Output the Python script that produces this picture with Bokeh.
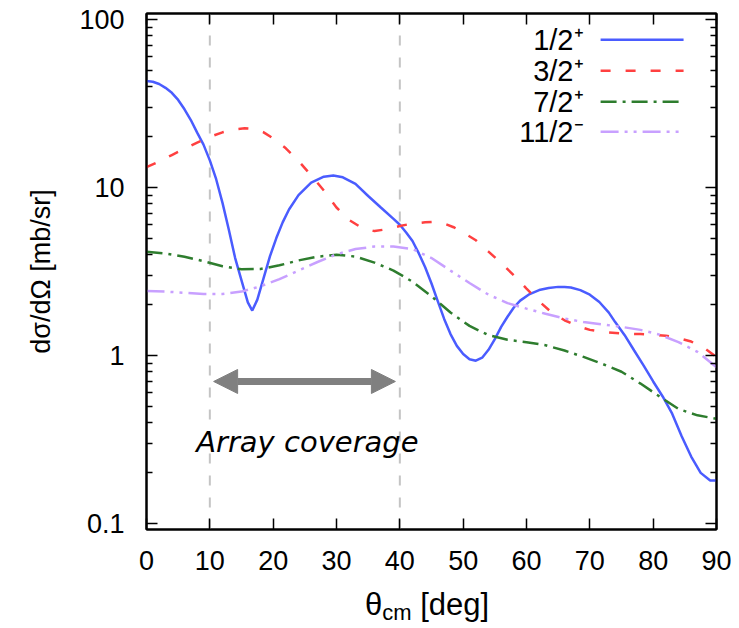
from bokeh.plotting import figure
from bokeh.models import (Range1d, FixedTicker, LogAxis, LinearAxis, Span, Label,
                          Arrow, NormalHead, Title, Div)
from bokeh.layouts import column
from bokeh.embed import file_html
from bokeh.resources import INLINE

# ---------------- data ----------------
x_half = [0, 1, 2, 3, 4, 5, 6, 7, 8, 9, 10, 11, 12, 13, 14, 15, 16, 16.7, 17.5, 18.5,
          19.5, 20.5, 21.5, 22.5, 24, 26, 28, 29.5, 31, 33, 35, 37, 39, 40, 41, 42, 43,
          44, 45, 46, 47, 48, 49, 50, 51, 52, 53, 54, 55, 56, 57, 58, 59, 60.5, 62, 63.5,
          65, 66, 67, 68.5, 70, 71.5, 73, 74, 75.5, 77, 78.5, 80, 81.5, 83, 84.5, 86,
          87.5, 89, 90]
y_half = [43, 42.6, 41.3, 39.2, 36.6, 33.2, 29.2, 25.2, 21.2, 18.0, 14.5, 11.2, 8.1,
          5.6, 3.8, 2.8, 2.07, 1.85, 2.15, 2.9, 3.9, 5.0, 6.2, 7.4, 9.0, 10.7, 11.6,
          11.8, 11.5, 10.5, 8.9, 7.6, 6.5, 6.0, 5.4, 4.8, 4.05, 3.35, 2.68, 2.1, 1.65,
          1.34, 1.14, 1.02, 0.95, 0.93, 0.97, 1.08, 1.25, 1.48, 1.7, 1.93, 2.12, 2.32,
          2.45, 2.52, 2.56, 2.56, 2.54, 2.45, 2.3, 2.08, 1.8, 1.58, 1.32, 1.07, 0.87,
          0.7, 0.57, 0.45, 0.33, 0.25, 0.2, 0.18, 0.18]

x_3half = [0, 2, 4, 6, 8, 10, 12, 14, 15.5, 17, 18.5, 20, 22, 24, 26, 28, 30, 32, 34,
           36, 38, 40, 42, 44, 45.5, 47, 48.5, 50, 52, 54, 56, 58, 60, 62, 64, 66, 68,
           70, 72, 75, 78, 80, 82, 84, 86, 88, 90]
y_3half = [13.2, 14.3, 15.6, 17.0, 18.5, 20.0, 21.3, 22.2, 22.5, 22.3, 21.3, 19.6,
           17.1, 14.4, 11.8, 9.6, 7.6, 6.4, 5.75, 5.5, 5.65, 5.9, 6.1, 6.2, 6.25, 6.1,
           5.8, 5.4, 4.85, 4.15, 3.55, 3.0, 2.5, 2.1, 1.8, 1.62, 1.5, 1.42, 1.38, 1.35,
           1.34, 1.33, 1.31, 1.27, 1.21, 1.11, 0.98]

x_7half = [0, 3, 6, 9, 12, 15, 18, 21, 24, 27, 30, 33, 36, 39, 42, 45, 48, 51, 54, 57,
           60, 63, 66, 69, 72, 75, 78, 81, 84, 87, 90]
y_7half = [4.15, 4.05, 3.87, 3.64, 3.4, 3.26, 3.27, 3.44, 3.68, 3.87, 3.98, 3.88, 3.57,
           3.2, 2.75, 2.25, 1.8, 1.5, 1.32, 1.24, 1.2, 1.15, 1.07, 0.98, 0.89, 0.8,
           0.68, 0.57, 0.48, 0.44, 0.42]

x_11half = [0, 3, 6, 9, 12, 15, 18, 21, 24, 27, 30, 33, 36, 39, 42, 45, 48, 51, 54, 57,
            60, 63, 66, 69, 72, 75, 78, 81, 84, 87, 90]
y_11half = [2.42, 2.4, 2.36, 2.32, 2.32, 2.4, 2.58, 2.85, 3.2, 3.6, 4.0, 4.3, 4.45,
            4.45, 4.3, 3.8, 3.2, 2.7, 2.3, 2.05, 1.9, 1.77, 1.66, 1.58, 1.53, 1.48,
            1.42, 1.33, 1.2, 1.05, 0.85]

series_labels = ["1/2\u207a", "3/2\u207a", "7/2\u207a", "11/2\u207b"]
x_ticks = [0, 10, 20, 30, 40, 50, 60, 70, 80, 90]
y_ticks = [0.1, 1, 10, 100]
y_tick_labels = ["0.1", "1", "10", "100"]
coverage = [10, 40]

# ---------------- styles ----------------
colors = ["#4a5cff", "#ff4040", "#2e7d2e", "#c8a0ff"]
dashes = ["solid", "10 15", "16 6 3 6", "18 6 3 6 3 6"]
FONT = "Liberation Sans"

p = figure(width=731, height=585, y_axis_type="log",
           x_range=Range1d(0, 90), y_range=Range1d(0.092, 108.6),
           output_backend="svg", toolbar_location=None,
           min_border_left=146, min_border_right=15, min_border_top=13,
           min_border_bottom=56)
p.xgrid.visible = False
p.ygrid.visible = False
p.outline_line_color = "black"
p.outline_line_width = 2
p.background_fill_color = "white"
p.border_fill_color = "white"

minor = [m * 10.0 ** e for e in (-1, 0, 1) for m in range(2, 10)]
yticker = FixedTicker(ticks=y_ticks, minor_ticks=minor)
xticker = FixedTicker(ticks=x_ticks, minor_ticks=[])

def style_axis(ax, labels=True):
    ax.axis_line_color = "black"
    ax.axis_line_width = 2
    ax.major_tick_in = 11
    ax.major_tick_out = 0
    ax.minor_tick_in = 6
    ax.minor_tick_out = 0
    ax.major_tick_line_width = 1.5
    ax.minor_tick_line_width = 1.5
    ax.major_label_text_font = FONT
    ax.major_label_text_font_size = "27px"
    ax.major_label_text_color = "black" if labels else None

p.yaxis.ticker = yticker
p.yaxis.major_label_overrides = {t: s for t, s in zip(y_ticks, y_tick_labels)}
p.xaxis.ticker = xticker
style_axis(p.yaxis[0])
style_axis(p.xaxis[0])
p.yaxis.major_label_standoff = 22
p.xaxis.major_label_standoff = 21

ra = LogAxis(ticker=yticker, major_label_overrides={t: "" for t in y_ticks})
style_axis(ra, labels=False)
ra.major_label_standoff = 0
p.add_layout(ra, "right")
ta = LinearAxis(ticker=xticker, major_label_overrides={t: "" for t in x_ticks})
style_axis(ta, labels=False)
ta.major_label_standoff = 0
p.add_layout(ta, "above")

# y-axis title (shifted up like the reference)
p.add_layout(Title(text="d\u03c3/d\u03a9 [mb/sr]", align="center", offset=67,
                   standoff=42, text_font=FONT, text_font_size="27px",
                   text_font_style="normal", text_color="black"), "left")

for loc in coverage:
    p.add_layout(Span(location=loc, dimension="height", line_color="#c4c4c4",
                      line_width=2, line_dash="10 12", level="underlay"))

xs = [x_half, x_3half, x_7half, x_11half]
ys = [y_half, y_3half, y_7half, y_11half]
for x, y, c, d in zip(xs, ys, colors, dashes):
    p.line(x, y, line_color=c, line_width=2.5, line_dash=d)

# legend: label on the left, line sample on the right
leg_y = [75.7, 49.5, 32.4, 21.5]
for lab, c, d, yy in zip(series_labels, colors, dashes, leg_y):
    p.line([71.7, 84.8], [yy, yy], line_color=c, line_width=2.5, line_dash=d)
    p.add_layout(Label(x=69.0, y=yy, text=lab, text_align="right",
                       text_baseline="middle", text_font=FONT,
                       text_font_size="29px", text_color="black"))

head = dict(size=24, fill_color="#808080", line_color="#808080")
p.add_layout(Arrow(x_start=coverage[0] + 0.6, x_end=coverage[1] - 0.7,
                   y_start=0.70, y_end=0.70, line_color="#808080", line_width=7,
                   start=NormalHead(**head), end=NormalHead(**head)))
p.add_layout(Label(x=25.4, y=0.305, text="Array coverage", text_align="center",
                   text_baseline="alphabetic", text_font="DejaVu Sans",
                   text_font_style="italic", text_font_size="29px",
                   text_color="black"))

# x-axis title with subscript
xlabel = Div(width=731, height=35, margin=(0, 0, 0, 0), text=(
    '<div style="position:relative;width:731px;height:35px;overflow:visible;">'
    '<span style="position:absolute;left:365px;top:4px;font-family:\'Liberation Sans\';'
    'font-size:31px;line-height:1;white-space:nowrap;color:black;">'
    '\u03b8<span style="font-size:22px;position:relative;top:5px;">cm</span> [deg]'
    '</span></div>'))

layout = column(p, xlabel, spacing=0)
open("out.html", "w").write(file_html(layout, INLINE))
